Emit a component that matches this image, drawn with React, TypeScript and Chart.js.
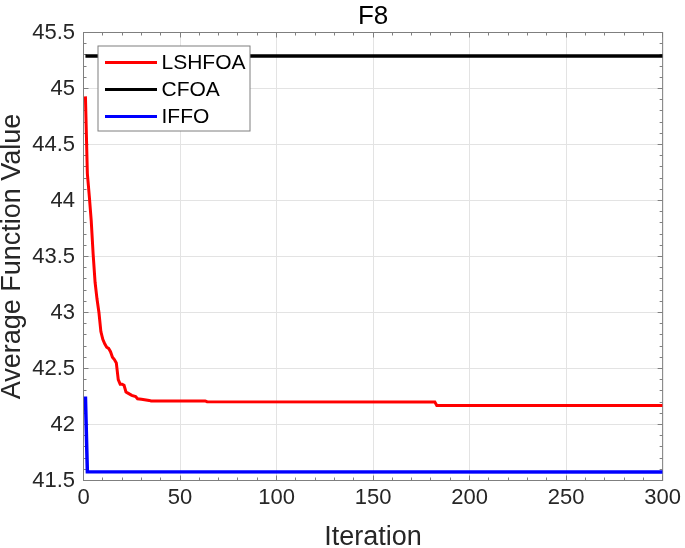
import React, { useEffect, useRef } from 'react';
import { Chart, registerables } from 'chart.js';

Chart.register(...registerables);

const chartTitle = 'F8';
const xAxisTitle = 'Iteration';
const yAxisTitle = 'Average Function Value';

const seriesNames = ['LSHFOA', 'CFOA', 'IFFO'];
const seriesColors = ['#ff0000', '#000000', '#0000ff'];

const lshfoaIter = [1, 2, 3, 4, 5, 6, 7, 8, 9, 10, 11, 12, 13, 14, 15, 16, 17, 18, 19, 20, 21, 22, 23, 25, 27, 28, 30, 34, 35, 63, 64, 182, 183, 300];
const lshfoaValue = [44.93, 44.24, 44.04, 43.82, 43.52, 43.27, 43.12, 43.0, 42.83, 42.76, 42.72, 42.69, 42.68, 42.65, 42.6, 42.58, 42.55, 42.4, 42.36, 42.36, 42.35, 42.29, 42.28, 42.26, 42.25, 42.23, 42.225, 42.215, 42.21, 42.21, 42.203, 42.2, 42.17, 42.17];

const cfoaIter = [1, 300];
const cfoaValue = [45.29, 45.29];

const iffoIter = [1, 2, 300];
const iffoValue = [42.25, 41.578, 41.575];

const xTickValues = [0, 50, 100, 150, 200, 250, 300];
const yTickValues = [41.5, 42, 42.5, 43, 43.5, 44, 44.5, 45, 45.5];
const xMinorStep = 10;
const yMinorStep = 0.1;

const FONT = '"Liberation Sans", Arial, Helvetica, sans-serif';

const toPoints = (xs: number[], ys: number[]) => xs.map((v, i) => ({ x: v, y: ys[i] }));

const boxPlugin = {
  id: 'matlabBox',
  beforeDatasetsDraw(chart: any) {
    const { ctx, chartArea } = chart;
    const { left, right, top, bottom } = chartArea;
    const xs = chart.scales.x;
    const ys = chart.scales.y;
    ctx.save();
    ctx.strokeStyle = '#7f7f7f';
    ctx.lineWidth = 1;
    ctx.beginPath();
    const xMin = xTickValues[0];
    const xMax = xTickValues[xTickValues.length - 1];
    const yMin = yTickValues[0];
    const yMax = yTickValues[yTickValues.length - 1];
    const nX = Math.round((xMax - xMin) / xMinorStep);
    for (let i = 0; i <= nX; i++) {
      const v = xMin + i * xMinorStep;
      const major = xTickValues.some((t) => Math.abs(t - v) < 1e-9);
      const len = major ? 5 : 3;
      const px = Math.round(xs.getPixelForValue(v) - 0.5) + 0.5;
      ctx.moveTo(px, bottom);
      ctx.lineTo(px, bottom - len);
      ctx.moveTo(px, top);
      ctx.lineTo(px, top + len);
    }
    const nY = Math.round((yMax - yMin) / yMinorStep);
    for (let i = 0; i <= nY; i++) {
      const v = yMin + i * yMinorStep;
      const major = yTickValues.some((t) => Math.abs(t - v) < 1e-6);
      const len = major ? 5 : 3;
      const py = Math.round(ys.getPixelForValue(v) - 0.5) + 0.5;
      ctx.moveTo(left, py);
      ctx.lineTo(left + len, py);
      ctx.moveTo(right, py);
      ctx.lineTo(right - len, py);
    }
    ctx.stroke();
    ctx.strokeRect(left, top, right - left, bottom - top);
    ctx.restore();
  },
};

const legendPlugin = {
  id: 'matlabLegend',
  afterDraw(chart: any) {
    const { ctx, chartArea } = chart;
    const bx = chartArea.left + 14.5;
    const by = chartArea.top + 13.5;
    const bw = 152;
    const bh = 85;
    ctx.save();
    ctx.fillStyle = '#ffffff';
    ctx.fillRect(bx, by, bw, bh);
    ctx.strokeStyle = '#7f7f7f';
    ctx.lineWidth = 1;
    ctx.strokeRect(bx, by, bw, bh);
    ctx.font = `21px ${FONT}`;
    ctx.textBaseline = 'middle';
    ctx.textAlign = 'left';
    chart.data.datasets.forEach((ds: any, i: number) => {
      const yy = by + 16.5 + i * 27;
      ctx.strokeStyle = ds.borderColor;
      ctx.lineWidth = 3;
      ctx.beginPath();
      ctx.moveTo(bx + 7, yy);
      ctx.lineTo(bx + 59, yy);
      ctx.stroke();
      ctx.fillStyle = '#000000';
      ctx.fillText(ds.label, bx + 63.5, yy + 1);
    });
    ctx.restore();
  },
};

export default function App() {
  const canvasRef = useRef<HTMLCanvasElement | null>(null);

  useEffect(() => {
    document.body.style.margin = '0';
    const canvas = canvasRef.current;
    if (!canvas) return;
    const chart = new Chart(canvas, {
      type: 'line',
      data: {
        datasets: [
          {
            label: seriesNames[0],
            data: toPoints(lshfoaIter, lshfoaValue),
            borderColor: seriesColors[0],
            borderWidth: 3,
            pointRadius: 0,
            tension: 0,
          },
          {
            label: seriesNames[1],
            data: toPoints(cfoaIter, cfoaValue),
            borderColor: seriesColors[1],
            borderWidth: 3.5,
            pointRadius: 0,
            tension: 0,
          },
          {
            label: seriesNames[2],
            data: toPoints(iffoIter, iffoValue),
            borderColor: seriesColors[2],
            borderWidth: 3.5,
            pointRadius: 0,
            tension: 0,
          },
        ],
      },
      options: {
        animation: false,
        responsive: false,
        devicePixelRatio: 1,
        layout: { padding: { left: 0, right: 19.5, top: 0, bottom: 0 } },
        plugins: {
          legend: { display: false },
          tooltip: { enabled: false },
          title: {
            display: true,
            text: chartTitle,
            fullSize: false,
            color: '#000000',
            font: { family: FONT, size: 26, weight: 'normal', lineHeight: 1 },
            padding: { top: 4, bottom: 2.5 },
          },
        },
        scales: {
          x: {
            type: 'linear',
            min: xTickValues[0],
            max: xTickValues[xTickValues.length - 1],
            afterBuildTicks: (scale: any) => {
              scale.ticks = xTickValues.map((v) => ({ value: v }));
            },
            afterFit: (scale: any) => {
              scale.height = 67.5;
            },
            ticks: {
              color: '#262626',
              font: { family: FONT, size: 22 },
              padding: 4,
              maxRotation: 0,
              autoSkip: false,
              callback: (v: any) => String(v),
            },
            grid: { color: '#e3e3e3', lineWidth: 1, drawTicks: false },
            border: { display: false },
            title: {
              display: true,
              text: xAxisTitle,
              color: '#262626',
              font: { family: FONT, size: 27, lineHeight: 0.8 },
              padding: { top: 0, bottom: 0 },
            },
          },
          y: {
            type: 'linear',
            min: yTickValues[0],
            max: yTickValues[yTickValues.length - 1],
            afterBuildTicks: (scale: any) => {
              scale.ticks = yTickValues.map((v) => ({ value: v }));
            },
            afterFit: (scale: any) => {
              scale.width = 83.5;
            },
            ticks: {
              color: '#262626',
              font: { family: FONT, size: 22 },
              padding: 8.5,
              autoSkip: false,
              callback: (v: any) => String(v),
            },
            grid: { color: '#e3e3e3', lineWidth: 1, drawTicks: false },
            border: { display: false },
            title: {
              display: true,
              text: yAxisTitle,
              color: '#262626',
              font: { family: FONT, size: 27, lineHeight: 0.9 },
              padding: { top: 0, bottom: 0 },
            },
          },
        },
      } as any,
      plugins: [boxPlugin, legendPlugin],
    });
    return () => chart.destroy();
  }, []);

  return (
    <div style={{ width: 685, height: 548 }}>
      <canvas ref={canvasRef} width={685} height={548} />
    </div>
  );
}
